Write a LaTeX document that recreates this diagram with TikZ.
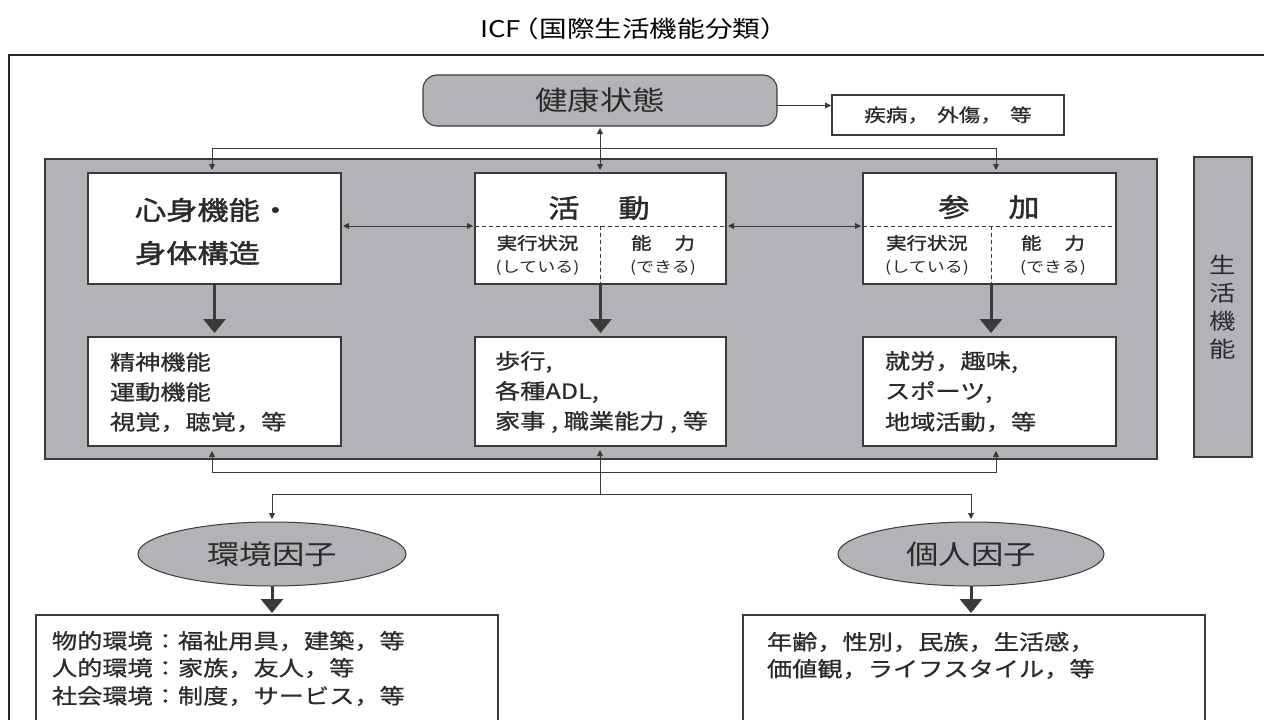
\documentclass[tikz,border=0pt]{standalone}
\usepackage{fontspec}
\newfontfamily\jp[FakeStretch=1.2]{Noto Sans CJK JP}
\newfontfamily\jpm[FakeStretch=1.2,FakeBold=1.6]{Noto Sans CJK JP}
\newfontfamily\jpt[FakeStretch=1.2,FakeBold=0.8]{Noto Sans CJK JP}
\usetikzlibrary{arrows.meta,shapes.geometric}
\definecolor{panelgray}{HTML}{B1B3B6}
\definecolor{ln}{HTML}{3A3A3A}
\definecolor{tx}{HTML}{2B2B2B}
\begin{document}
\begin{tikzpicture}[x=1pt,y=-1pt,
  every node/.style={inner sep=0pt, outer sep=0pt, text=tx},
  wbox/.style={draw=ln, line width=1.1pt, fill=white},
  gbox/.style={draw=ln, line width=1.1pt, fill=panelgray},
  thinarr/.style={-{Triangle[length=6pt,width=6pt]}, draw=ln, line width=0.9pt},
  dtip/.style={{Triangle[length=6pt,width=6pt]}-{Triangle[length=6pt,width=6pt]}, draw=ln, line width=0.9pt},
  bigarr/.style={-{Triangle[length=14pt,width=22pt]}, draw=ln, line width=3pt},
  dline/.style={draw=ln, line width=0.9pt, dash pattern=on 4pt off 3pt},
  hfont/.style={font=\jpm\fontsize{26}{30}\selectfont},
  sfont/.style={font=\jpm\fontsize{17}{20}\selectfont},
  pfont/.style={font=\jp\fontsize{15}{18}\selectfont},
  bfont/.style={font=\jpt\fontsize{21}{24}\selectfont},
  efont/.style={font=\jpt\fontsize{21}{24}\selectfont}
]
\useasboundingbox (0,0) rectangle (1264,720);
\clip (0,0) rectangle (1264,720);
\fill[white] (0,0) rectangle (1264,720);

% title and outer frame
\node[font=\jp\fontsize{23}{26}\selectfont, text=black] (title) at (634,29) {ICF\hspace{-0.4em}（国際生活機能分類）};
\draw[black!85, line width=1.3pt] (9,55) rectangle (1300,780);

% panels
\node[gbox, minimum width=1112pt, minimum height=300pt] (panel) at (601,309) {};
\node[gbox, minimum width=58pt, minimum height=300pt, align=center,
      font=\jp\fontsize{22}{28}\selectfont] (strip) at (1223,307) {生\\活\\機\\能};

% health condition
\node[gbox, rounded corners=14pt, minimum width=354pt, minimum height=51pt,
      font=\jp\fontsize{27}{30}\selectfont] (health) at (600,100.5) {健康状態};
\node[wbox, minimum width=232pt, minimum height=40pt,
      font=\jpt\fontsize{18}{20}\selectfont] (disease) at (948,115) {疾病，\hspace{0.45em}外傷，\hspace{0.45em}等};

% top boxes
\node[wbox, minimum width=253pt, minimum height=111pt] (body) at (214.5,228.5) {};
\node[wbox, minimum width=251pt, minimum height=111pt] (act) at (600.5,228.5) {};
\node[wbox, minimum width=253pt, minimum height=111pt] (par) at (989.5,228.5) {};

\node[hfont, anchor=west] (bodyt1) at (135,210) {心身機能・};
\node[hfont, anchor=west] (bodyt2) at (135,253) {身体構造};

\coordinate (actdl) at (475,226);
\coordinate (actdr) at (726,226);
\coordinate (actdm) at (600.5,226);
\coordinate (pardl) at (863,226);
\coordinate (pardr) at (1116,226);
\coordinate (pardm) at (991,226);
\draw[dline] (actdl) -- (actdr);
\draw[dline] (actdm) -- (actdm |- act.south);
\draw[dline] (pardl) -- (pardr);
\draw[dline] (pardm) -- (pardm |- par.south);

\node[hfont] (actt) at (599,208) {活\hspace{39pt}動};
\node[sfont] (acts1) at (537.5,243) {実行状況};
\node[pfont] (acts2) at (537.5,268) {(している)};
\node[sfont] (acta1) at (663,243) {能\hspace{23pt}力};
\node[pfont] (acta2) at (663,268) {(できる)};

\node[hfont] (part) at (989,207) {参\hspace{39pt}加};
\node[sfont] (pars1) at (927,243) {実行状況};
\node[pfont] (pars2) at (927,268) {(している)};
\node[sfont] (para1) at (1053,243) {能\hspace{23pt}力};
\node[pfont] (para2) at (1053,268) {(できる)};

% bottom boxes in panel
\node[wbox, minimum width=253pt, minimum height=109pt] (bodyb) at (214.5,391.5) {};
\node[wbox, minimum width=251pt, minimum height=109pt] (actb) at (600.5,391.5) {};
\node[wbox, minimum width=253pt, minimum height=109pt] (parb) at (989.5,391.5) {};

\node[bfont, anchor=west] (bb1) at (110,362) {精神機能};
\node[bfont, anchor=west] (bb2) at (110,392) {運動機能};
\node[bfont, anchor=west] (bb3) at (110,422) {視覚，聴覚，等};

\node[bfont, anchor=west] (ab1) at (495,362) {歩行,};
\node[bfont, anchor=west] (ab2) at (495,392) {各種ADL,};
\node[bfont, anchor=west] (ab3) at (495,422) {家事 , 職業能力 , 等};

\node[bfont, anchor=west] (pb1) at (885,362) {就労，趣味,};
\node[bfont, anchor=west] (pb2) at (885,392) {スポーツ,};
\node[bfont, anchor=west] (pb3) at (885,422) {地域活動，等};

% factors
\node[draw=ln, line width=1pt, fill=panelgray, ellipse, minimum width=268pt, minimum height=64pt,
      font=\jp\fontsize{27}{30}\selectfont] (envf) at (272,554) {環境因子};
\node[draw=ln, line width=1pt, fill=panelgray, ellipse, minimum width=266pt, minimum height=64pt,
      font=\jp\fontsize{27}{30}\selectfont] (persf) at (971,554) {個人因子};

\node[wbox, minimum width=462pt, minimum height=160pt] (envb) at (267,695) {};
\node[wbox, minimum width=462pt, minimum height=160pt] (persb) at (974,695) {};

\node[efont, anchor=west] (eb1) at (52,641) {物的環境：福祉用具，建築，等};
\node[efont, anchor=west] (eb2) at (52,668) {人的環境：家族，友人，等};
\node[efont, anchor=west] (eb3) at (52,696) {社会環境：制度，サービス，等};

\node[efont, anchor=west] (pe1) at (767,642) {年齢，性別，民族，生活感，};
\node[efont, anchor=west] (pe2) at (767,669) {価値観，ライフスタイル，等};

% connectors
\draw[thinarr, shorten >=1pt] ([yshift=-5pt]health.east) -- ([yshift=-5pt]health.east -| disease.west);
\draw[dtip, shorten <=2pt, shorten >=3pt] (health.south) -- (health.south |- act.north);

\coordinate (tl) at (212,148);
\coordinate (tr) at (996,148);
\draw[dtip, shorten <=3pt, shorten >=3pt] (tl |- body.north) -- (tl) -- (tr) -- (tr |- par.north);

\draw[dtip, shorten <=2pt, shorten >=2pt] (body.east |- actdl) -- (actdl);
\draw[dtip, shorten <=2pt, shorten >=2pt] (actdr) -- (par.west |- actdr);

\draw[bigarr, shorten >=4pt] (body.south) -- (bodyb.north);
\draw[bigarr, shorten >=4pt] (actdm |- act.south) -- (actdm |- actb.north);
\draw[bigarr, shorten >=4pt] (pardm |- par.south) -- (pardm |- parb.north);

\coordinate (bl) at (212,472);
\coordinate (br) at (996,472);
\draw[dtip, shorten <=5pt, shorten >=5pt] (bl |- bodyb.south) -- (bl) -- (br) -- (br |- parb.south);
\coordinate (cj) at (600,494);
\draw[thinarr, shorten >=4pt] (cj) -- (cj |- actb.south);
\coordinate (ll) at (272,494);
\coordinate (lr) at (971,494);
\draw[dtip, shorten <=3pt, shorten >=3pt] (envf.north) -- (ll) -- (lr) -- (persf.north);

\draw[bigarr, shorten >=2pt] (envf.south) -- (envf.south |- envb.north);
\draw[bigarr, shorten >=2pt] (persf.south) -- (persf.south |- persb.north);
\end{tikzpicture}
\end{document}
